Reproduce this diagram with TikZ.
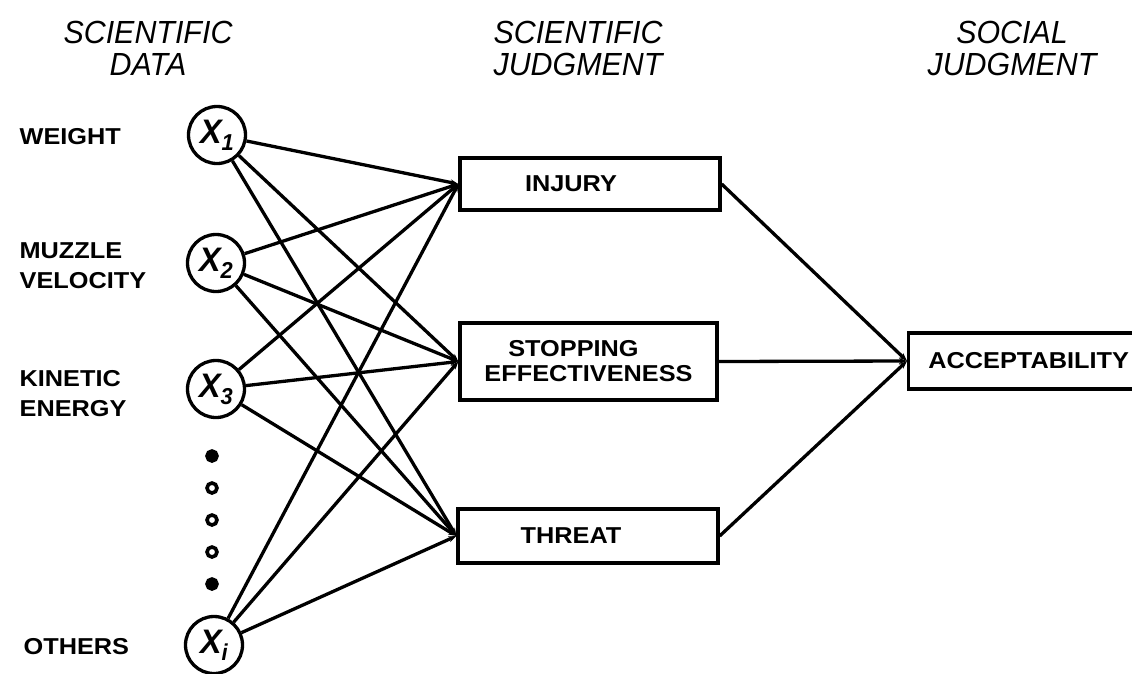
\documentclass[tikz,border=0pt]{standalone}
\usepackage{fontspec}
\usetikzlibrary{arrows.meta}
% lettering faces: wide upright bold for labels, slanted for headings
\newfontfamily\letterfont{Liberation Sans}[FakeStretch=1.1]
\newfontfamily\headfont{Liberation Sans}[FakeStretch=0.95]
\begin{document}
\begin{tikzpicture}[x=1pt,y=-1pt,line width=3.3pt,
  var/.style={draw,circle,minimum size=57pt,inner sep=0pt,
    font=\headfont\bfseries\itshape\fontsize{34}{34}\selectfont},
  judg/.style={draw,rectangle,inner sep=0pt,align=center,
    font=\letterfont\bfseries\fontsize{23}{25}\selectfont},
  lab/.style={anchor=west,align=left,inner sep=0pt,
    font=\letterfont\bfseries\fontsize{23}{30}\selectfont},
  head/.style={align=center,inner sep=0pt,
    font=\headfont\itshape\fontsize{32}{32}\selectfont},
  wire/.style={-{Stealth[length=8pt,width=6pt]}},
  dotmark/.style={draw,circle,line width=3.6pt,inner sep=0pt,minimum size=10pt},
]
\useasboundingbox (0,0) rectangle (1132,673);

% column headings
\node[head] (h1) at (148,48) {SCIENTIFIC\\DATA};
\node[head] (h2) at (578,48) {SCIENTIFIC\\JUDGMENT};
\node[head] (h3) at (1012,48) {SOCIAL\\JUDGMENT};

% data labels
\node[lab] (lw) at (18,137) {WEIGHT};
\node[lab] (lm) at (18,266) {MUZZLE\\VELOCITY};
\node[lab] (lk) at (18,394) {KINETIC\\ENERGY};
\node[lab] (lo) at (22,647) {OTHERS};

% data variables
\newcommand{\xvar}[1]{X\raisebox{-7pt}{\fontsize{23}{23}\selectfont #1}}
\node[var] (x1) at (217,135) {\xvar{1}};
\node[var] (x2) at (216,263) {\xvar{2}};
\node[var] (x3) at (216,389) {\xvar{3}};
\node[var] (xi) at (214,645) {\xvar{i}};

% ellipsis between the listed variables and the rest
\node[dotmark,fill] (d1) at (212,456) {};
\node[dotmark] (d2) at (212,488) {};
\node[dotmark] (d3) at (212,520) {};
\node[dotmark] (d4) at (212,552) {};
\node[dotmark,fill] (d5) at (212,584) {};

% scientific judgments
\node[judg,minimum width=260pt,minimum height=52pt] (inj) at (590,184)
  {INJURY\hspace*{38pt}};
\node[judg,minimum width=257pt,minimum height=77pt] (stop) at (588.5,361.5)
  {STOPPING\hspace*{30pt}\\EFFECTIVENESS};
\node[judg,minimum width=260pt,minimum height=54pt] (thr) at (588,536)
  {THREAT\hspace*{34pt}};

% social judgment
\node[judg,minimum width=240pt,minimum height=56pt,anchor=west] (acc) at (907,361)
  {ACCEPTABILITY};

% every datum feeds every scientific judgment
\foreach \s in {x1,x2,x3,xi}
  \foreach \t in {inj,stop,thr}
    \draw[wire] (\s) -- (\t.west);

% scientific judgments feed the social judgment
\draw[wire] (inj.east) -- (acc.west);
\draw[wire] (stop.east) -- (acc.west);
\draw[wire] (thr.east) -- (acc.west);
\end{tikzpicture}
\end{document}
